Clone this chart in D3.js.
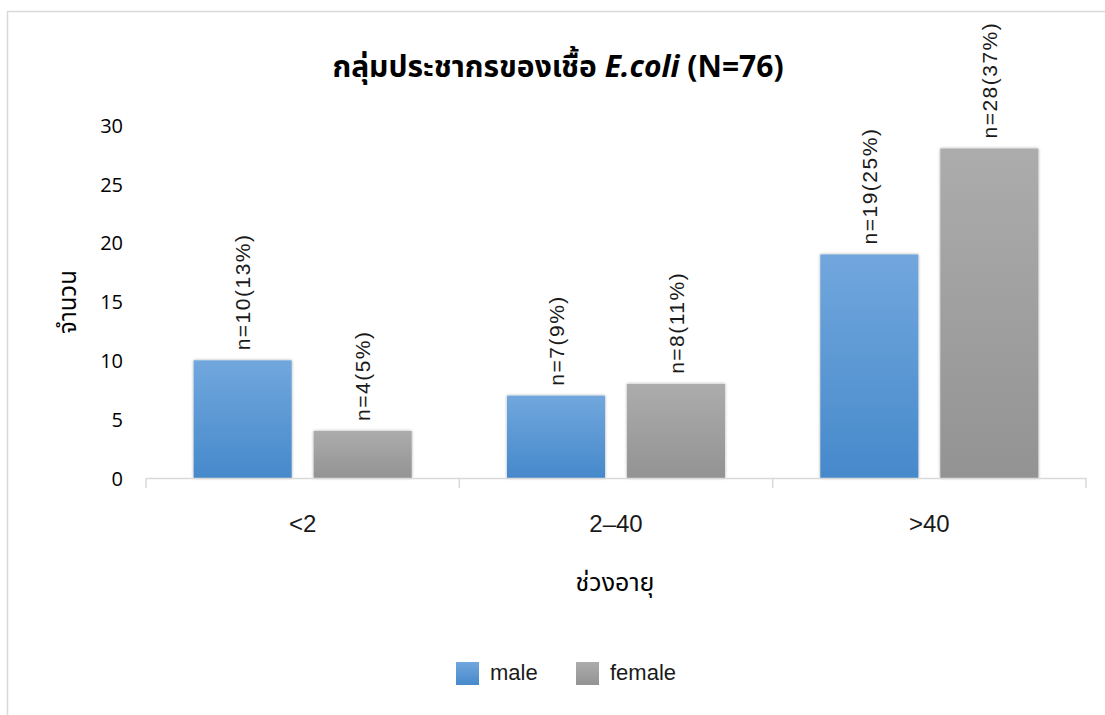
<!DOCTYPE html>
<html>
<head>
<meta charset="utf-8">
<script src="https://cdn.jsdelivr.net/npm/d3@7"></script>
<style>
  html, body { margin: 0; padding: 0; background: #fff; }
  svg { display: block; }
</style>
</head>
<body>
<svg id="chart" width="1105" height="715"></svg>
<script>
const categories = ["<2", "2–40", ">40"];
const seriesNames = ["male", "female"];
const maleValues = [10, 7, 19];
const femaleValues = [4, 8, 28];
const maleLabels = ["n=10(13%)", "n=7(9%)", "n=19(25%)"];
const femaleLabels = ["n=4(5%)", "n=8(11%)", "n=28(37%)"];
const yTicks = [0, 5, 10, 15, 20, 25, 30];

(function () {
const svg = d3.select("#chart");
const W = 1105, H = 715;
const plotLeft = 146, plotRight = 1086, plotTop = 125, plotBottom = 478;

const defs = svg.append("defs");
const gBlue = defs.append("linearGradient").attr("id", "gBlue").attr("x1", 0).attr("y1", 0).attr("x2", 0).attr("y2", 1);
gBlue.append("stop").attr("offset", "0%").attr("stop-color", "#71a7dd");
gBlue.append("stop").attr("offset", "100%").attr("stop-color", "#4689cb");
const gGray = defs.append("linearGradient").attr("id", "gGray").attr("x1", 0).attr("y1", 0).attr("x2", 0).attr("y2", 1);
gGray.append("stop").attr("offset", "0%").attr("stop-color", "#acacac");
gGray.append("stop").attr("offset", "100%").attr("stop-color", "#939393");
const sh = defs.append("filter").attr("id", "shadow").attr("x", "-10%").attr("y", "-10%").attr("width", "130%").attr("height", "130%");
sh.append("feDropShadow").attr("dx", 0).attr("dy", 0).attr("stdDeviation", 1.6).attr("flood-color", "#000").attr("flood-opacity", 0.35);

const fills = { male: "url(#gBlue)", female: "url(#gGray)" };

// outer border
svg.append("rect").attr("x", 7.5).attr("y", 11.5).attr("width", W + 10).attr("height", H + 10)
  .attr("fill", "none").attr("stroke", "#d9d9d9").attr("stroke-width", 1.5);

const x0 = d3.scaleBand().domain(categories).range([plotLeft, plotRight]).paddingInner(0).paddingOuter(0);
const x1 = d3.scaleBand().domain(seriesNames).range([0, x0.bandwidth()]).paddingInner(0.1833).paddingOuter(0.397);
const y = d3.scaleLinear().domain([0, 30]).range([plotBottom, plotTop]);

// y tick labels
const yAxis = d3.axisLeft(y).tickValues(yTicks).tickSize(0).tickPadding(0);
const gy = svg.append("g").attr("transform", `translate(123,0)`).call(yAxis);
gy.select(".domain").remove();
gy.selectAll("text").attr("font-family", "'Open Sans', 'Liberation Sans', sans-serif")
  .attr("font-size", 20).attr("fill", "#000").attr("dy", "0.36em");

// bars
const data = categories.map((c, i) => ({
  cat: c,
  vals: [
    { s: "male", v: maleValues[i], label: maleLabels[i] },
    { s: "female", v: femaleValues[i], label: femaleLabels[i] }
  ]
}));

const groups = svg.append("g").selectAll("g").data(data).join("g")
  .attr("transform", d => `translate(${x0(d.cat)},0)`);

groups.selectAll("rect").data(d => d.vals).join("rect")
  .attr("x", d => x1(d.s))
  .attr("y", d => y(d.v))
  .attr("width", x1.bandwidth())
  .attr("height", d => y(0) - y(d.v))
  .attr("fill", d => fills[d.s])
  .attr("filter", "url(#shadow)");

groups.selectAll("text").data(d => d.vals).join("text")
  .attr("transform", d => `translate(${x1(d.s) + x1.bandwidth() / 2},${y(d.v) - 10}) rotate(-90)`)
  .attr("text-anchor", "start")
  .attr("dy", "0.36em")
  .attr("font-family", "'Liberation Sans', Arial, sans-serif")
  .attr("font-size", 21)
  .attr("letter-spacing", 1.5)
  .attr("fill", "#1a1a1a")
  .text(d => d.label);

// x axis
const xAxis = d3.axisBottom(x0).tickSize(0).tickPadding(0);
const gx = svg.append("g").attr("transform", `translate(0,${plotBottom})`).call(xAxis);
gx.select(".domain").attr("stroke", "#d9d9d9").attr("stroke-width", 1.5);
gx.selectAll(".tick text").attr("font-family", "'Liberation Sans', Arial, sans-serif")
  .attr("font-size", 24).attr("fill", "#1a1a1a").attr("y", 54).attr("dy", "0");
// category boundary ticks
const bounds = categories.map(c => x0(c)).concat([x0(categories[categories.length - 1]) + x0.bandwidth()]);
svg.append("g").selectAll("line").data(bounds).join("line")
  .attr("x1", d => d).attr("x2", d => d)
  .attr("y1", plotBottom).attr("y2", plotBottom + 10)
  .attr("stroke", "#d9d9d9").attr("stroke-width", 1.5);

// title
const title = svg.append("text").attr("x", 558).attr("y", 77).attr("text-anchor", "middle")
  .attr("font-family", "'Noto Sans', 'Noto Sans Thai', sans-serif").attr("font-size", 30).attr("font-weight", "bold").attr("fill", "#000");
title.append("tspan").text("กลุ่มประชากรของเชื้อ ");
title.append("tspan").attr("font-style", "italic").text("E.coli");
title.append("tspan").text(" (N=76)");

// axis titles
svg.append("text").attr("transform", "translate(76,302) rotate(-90)").attr("text-anchor", "middle")
  .attr("font-family", "'Noto Sans', 'Noto Sans Thai', sans-serif").attr("font-size", 24).attr("fill", "#000")
  .text("จำนวน");
svg.append("text").attr("x", 615).attr("y", 591).attr("text-anchor", "middle")
  .attr("font-family", "'Noto Sans', 'Noto Sans Thai', sans-serif").attr("font-size", 25).attr("fill", "#000")
  .text("ช่วงอายุ");

// legend
const legendX = [456, 576];
const lg = svg.append("g").selectAll("g").data(seriesNames).join("g")
  .attr("transform", (d, i) => `translate(${legendX[i]},662)`);
lg.append("rect").attr("width", 23).attr("height", 23).attr("fill", d => fills[d]);
lg.append("text").attr("x", 34).attr("y", 10).attr("dy", "0.36em")
  .attr("font-family", "'Liberation Sans', Arial, sans-serif").attr("font-size", 22).attr("fill", "#1a1a1a")
  .text(d => d);
})();
</script>
</body>
</html>
